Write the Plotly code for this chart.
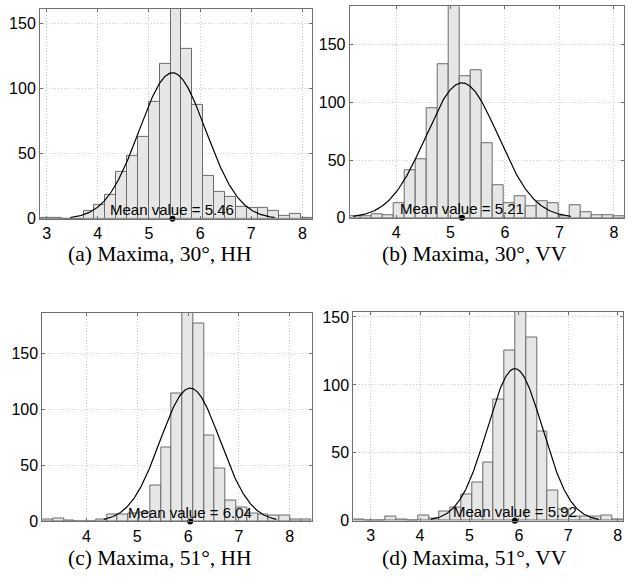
import numpy as np
import plotly.graph_objects as go

# ---------------- data ----------------
captions = ["(a) Maxima, 30°, HH", "(b) Maxima, 30°, VV",
            "(c) Maxima, 51°, HH", "(d) Maxima, 51°, VV"]

counts_a = [1, 1, 0, 0, 6, 11, 18, 36, 48, 63, 90, 119, 172, 130, 87, 33, 21, 17, 9, 8, 8, 6, 2, 4, 1]
counts_b = [1, 1, 3, 2, 13, 41, 51, 95, 133, 192, 123, 128, 65, 28, 13, 19, 10, 14, 13, 1, 11, 5, 2, 2, 1]
counts_c = [2, 3, 1, 0, 0, 2, 6, 6, 7, 8, 32, 66, 114, 192, 177, 77, 47, 19, 12, 7, 6, 5, 5, 2, 2]
counts_d = [1, 0, 0, 3, 1, 0, 4, 2, 7, 10, 19, 28, 43, 89, 125, 168, 135, 66, 22, 8, 3, 3, 3, 4, 1]

bin_start = [2.87, 3.147, 3.13, 2.648]
bin_width = [0.2127, 0.2018, 0.2121, 0.2187]

mean_values = [5.46, 5.21, 6.04, 5.92]
fit_sigma = [0.65, 0.664, 0.59, 0.56]
fit_peak = [112, 117, 119, 112]
fit_halfspan = [2.0, 2.0, 1.7, 1.7]

y_max = [161, 183.5, 186.5, 154]
x_ticks = [[3, 4, 5, 6, 7, 8], [4, 5, 6, 7, 8], [4, 5, 6, 7, 8], [3, 4, 5, 6, 7, 8]]
y_ticks = [0, 50, 100, 150]

all_counts = [counts_a, counts_b, counts_c, counts_d]

# ---------------- layout geometry (pixels) ----------------
W, H = 632, 584
boxes = [(40, 312, 6, 220.3), (349.7, 624.3, 3.3, 219.3),
         (42.3, 311.7, 316, 529.3), (353.3, 623.3, 315, 528.7)]
cap_pos = [(160, 256), (474, 256), (160, 567), (474, 567)]

fig = go.Figure()
tick_font = dict(family="Liberation Sans, Arial, sans-serif", size=16, color="black")
frame_col = "#6f6f6f"
grid_col = "#cdcdcd"

layout_axes = {}
for k in range(4):
    counts = np.array(all_counts[k], dtype=float)
    n = len(counts)
    x0 = bin_start[k]
    bw = bin_width[k]
    centers = x0 + (np.arange(n) + 0.5) * bw
    xa = "x" if k == 0 else f"x{k+1}"
    ya = "y" if k == 0 else f"y{k+1}"

    fig.add_trace(go.Bar(x=centers, y=counts, width=bw, xaxis=xa, yaxis=ya,
                         marker=dict(color="#e6e6e6", line=dict(color="#6a6a6a", width=1)),
                         showlegend=False, hoverinfo="skip"))

    m, s, p, hs = mean_values[k], fit_sigma[k], fit_peak[k], fit_halfspan[k]
    xc = np.linspace(m - hs, m + hs, 300)
    yc = p * np.exp(-0.5 * ((xc - m) / s) ** 2)
    fig.add_trace(go.Scatter(x=xc, y=yc, mode="lines", xaxis=xa, yaxis=ya,
                             line=dict(color="black", width=1.2),
                             showlegend=False, hoverinfo="skip"))

    fig.add_trace(go.Scatter(x=[m], y=[0], mode="markers", xaxis=xa, yaxis=ya,
                             marker=dict(color="black", size=6),
                             cliponaxis=False, showlegend=False, hoverinfo="skip"))

    fig.add_annotation(x=m, y=0, xref=xa, yref=ya, text=f"Mean value = {m:.2f}",
                       showarrow=False, yanchor="middle", xanchor="center", yshift=9,
                       font=dict(family="Liberation Sans, Arial, sans-serif", size=15, color="black"))

    L, R, T, B = boxes[k]
    xkey = "xaxis" if k == 0 else f"xaxis{k+1}"
    ykey = "yaxis" if k == 0 else f"yaxis{k+1}"
    common = dict(showgrid=True, gridcolor=grid_col, griddash="1px,2px", gridwidth=1,
                  showline=True, mirror="ticks", linecolor=frame_col, linewidth=1,
                  ticks="inside", ticklen=3, tickcolor=frame_col,
                  tickfont=tick_font, zeroline=False, fixedrange=True)
    layout_axes[xkey] = dict(domain=[L / W, R / W], range=[x0, x0 + n * bw], anchor=ya,
                             tickvals=x_ticks[k], ticktext=[str(t) for t in x_ticks[k]], **common)
    layout_axes[ykey] = dict(domain=[1 - B / H, 1 - T / H], range=[0, y_max[k]], anchor=xa,
                             tickvals=y_ticks, ticktext=[str(t) for t in y_ticks], **common)

    cx, cy = cap_pos[k]
    fig.add_annotation(x=cx / W, y=1 - cy / H, xref="paper", yref="paper", text=captions[k],
                       showarrow=False, xanchor="center", yanchor="middle",
                       font=dict(family="Liberation Serif, Times New Roman, serif", size=21.5, color="black"))

fig.update_layout(width=W, height=H, autosize=False,
                  margin=dict(l=0, r=0, t=0, b=0),
                  paper_bgcolor="white", plot_bgcolor="white",
                  bargap=0, barmode="overlay", **layout_axes)

fig.write_html("out.html", config={"displayModeBar": False},
               post_script="document.body.style.margin='0';document.body.style.overflow='hidden';")
